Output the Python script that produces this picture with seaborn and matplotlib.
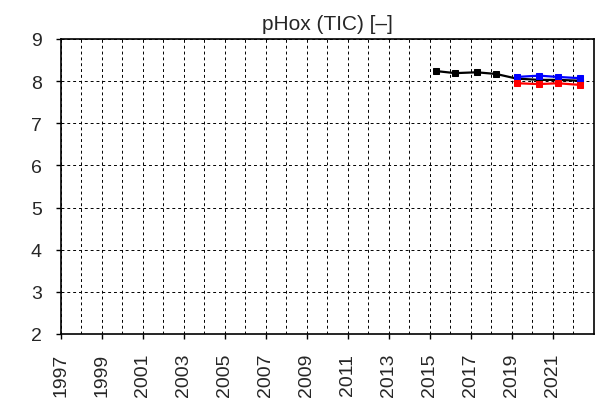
import matplotlib
matplotlib.use('Agg')
import matplotlib.pyplot as plt
from matplotlib.ticker import MultipleLocator
import pandas as pd
import seaborn as sns

# Adatok
ev_fekete = [2015.3, 2016.25, 2017.3, 2018.25, 2019.25, 2020.35, 2021.25, 2022.35]
ph_fekete = [8.24, 8.19, 8.21, 8.17, 8.06, 8.03, 8.03, 8.01]
ev_kek = [2019.25, 2020.35, 2021.25, 2022.35]
ph_kek = [8.10, 8.13, 8.10, 8.07]
ev_piros = [2019.25, 2020.35, 2021.25, 2022.35]
ph_piros = [7.95, 7.93, 7.95, 7.91]
ev_cimkek = list(range(1997, 2023, 2))

sns.set_style('ticks')
plt.rcParams['font.family'] = ['Liberation Sans', 'DejaVu Sans']

fig = plt.figure(figsize=(5.95, 4.02), dpi=100)
ax = fig.add_axes([0.102, 0.1667, 0.8955, 0.7338])

sorozatok = [(ev_fekete, ph_fekete, 'black'), (ev_kek, ph_kek, 'blue'), (ev_piros, ph_piros, 'red')]
for ev, ph, szin in sorozatok:
    df = pd.DataFrame({'ev': ev, 'ph': ph})
    sns.lineplot(data=df, x='ev', y='ph', ax=ax, color=szin, marker='s', markersize=5,
                 markeredgecolor=szin, linewidth=1.6, zorder=3)

ax.set_xlim(1997, 2023)
ax.set_ylim(2, 9)
ax.set_xticks(ev_cimkek)
ax.set_xticklabels([str(e) for e in ev_cimkek])
ax.xaxis.set_minor_locator(MultipleLocator(1))
ax.yaxis.set_major_locator(MultipleLocator(1))
ax.grid(True, which='both', color='black', linestyle=(0, (3, 3)), linewidth=0.7)
ax.tick_params(axis='both', which='major', labelsize=14, length=3.5, width=1, pad=10, color='black')
ax.tick_params(axis='x', which='minor', length=0)
ax.tick_params(axis='x', rotation=90)
for sp in ax.spines.values():
    sp.set_color('black')
    sp.set_linewidth(1.2)
ax.set_xlabel('')
ax.set_ylabel('')
ax.set_title('pHox (TIC) [–]', fontsize=15, pad=7)

fig.savefig('out.png', dpi=100)
